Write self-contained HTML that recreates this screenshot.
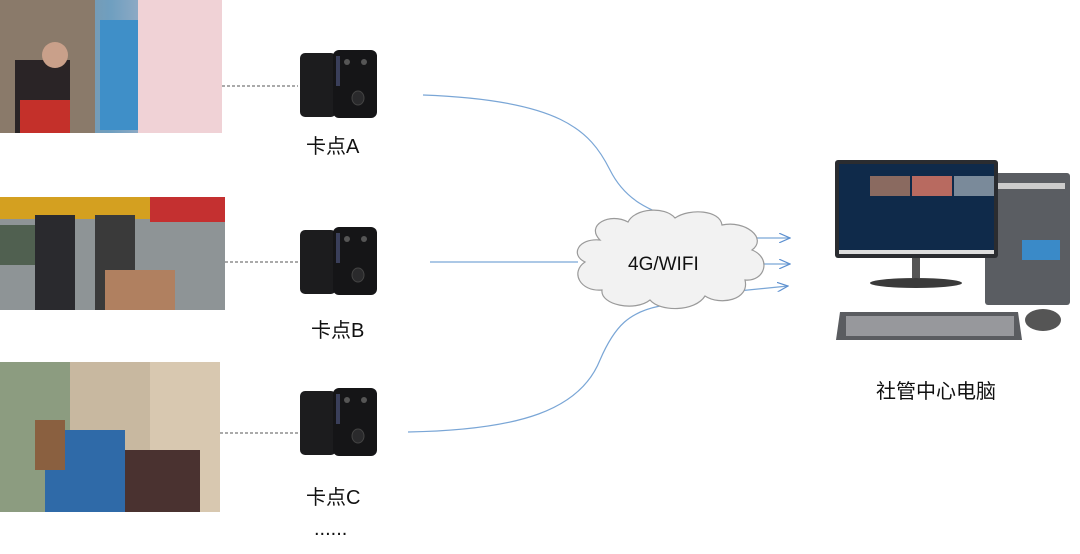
<!DOCTYPE html>
<html><head><meta charset="utf-8"><style>
html,body{margin:0;padding:0;background:#fff;}
svg{display:block;font-family:"Liberation Sans","Noto Sans CJK SC",sans-serif;}
</style></head><body>
<svg width="1080" height="554" viewBox="0 0 1080 554" xmlns="http://www.w3.org/2000/svg">
<defs>
<linearGradient id="sky1" x1="0" y1="0" x2="1" y2="0"><stop offset="0" stop-color="#9a8a80"/><stop offset="0.5" stop-color="#6f9fc0"/><stop offset="1" stop-color="#e8c8d0"/></linearGradient>
<g id="cam">
<rect x="0" y="3" width="36" height="64" rx="5" fill="#1c1c1e"/>
<rect x="33" y="0" width="44" height="68" rx="6" fill="#151517"/>
<rect x="36" y="6" width="4" height="30" fill="#3a3f5a"/>
<circle cx="47" cy="12" r="3" fill="#555"/><circle cx="64" cy="12" r="3" fill="#555"/>
<ellipse cx="58" cy="48" rx="6" ry="7" fill="#2a2a2c" stroke="#444"/>
</g>
<marker id="ar" markerWidth="10" markerHeight="8" refX="9" refY="4" orient="auto"><path d="M0,0 L9,4 L0,8" fill="none" stroke="#5b8fd0" stroke-width="1"/></marker>
</defs>

<rect x="0" y="0" width="222" height="133" fill="url(#sky1)"/>
<rect x="0" y="0" width="95" height="133" fill="#8a7a6a"/>
<rect x="100" y="20" width="40" height="110" fill="#3f8fc8"/>
<rect x="138" y="0" width="84" height="133" fill="#f0d2d6"/>
<rect x="15" y="60" width="55" height="73" fill="#2a2426"/>
<rect x="20" y="100" width="50" height="33" fill="#c4302a"/>
<circle cx="55" cy="55" r="13" fill="#c9a08a"/>

<rect x="0" y="197" width="225" height="113" fill="#8e9496"/>
<rect x="0" y="197" width="225" height="22" fill="#d4a020"/>
<rect x="150" y="197" width="75" height="25" fill="#c43030"/>
<rect x="0" y="225" width="40" height="40" fill="#506050"/>
<rect x="35" y="215" width="40" height="95" fill="#2a2a2e"/>
<rect x="95" y="215" width="40" height="95" fill="#3a3a3a"/>
<rect x="105" y="270" width="70" height="40" fill="#b08060"/>

<rect x="0" y="362" width="220" height="150" fill="#c8b8a0"/>
<rect x="0" y="362" width="70" height="150" fill="#8c9c80"/>
<rect x="150" y="362" width="70" height="150" fill="#d8c8b0"/>
<rect x="45" y="430" width="80" height="82" fill="#2f6aa8"/>
<rect x="125" y="450" width="75" height="62" fill="#4a3230"/>
<rect x="35" y="420" width="30" height="50" fill="#8a6040"/>

<g stroke="#555" stroke-width="1" stroke-dasharray="3,2">
<line x1="222" y1="86" x2="298" y2="86"/>
<line x1="225" y1="262" x2="298" y2="262"/>
<line x1="220" y1="433" x2="298" y2="433"/>
</g>

<use href="#cam" x="300" y="50"/>
<use href="#cam" x="300" y="227"/>
<use href="#cam" x="300" y="388"/>

<g font-size="20" fill="#111">
<text x="306" y="153">卡点A</text>
<text x="311" y="337">卡点B</text>
<text x="306" y="504">卡点C</text>
<text x="314" y="535" font-size="20">......</text>
</g>

<g fill="none" stroke="#7aa6d6" stroke-width="1.2">
<path d="M423,95 C560,100 590,130 610,170 C625,200 650,212 682,220"/>
<line x1="430" y1="262" x2="578" y2="262"/>
<path d="M408,432 C520,430 580,410 600,360 C615,325 630,312 660,306"/>
<line x1="755" y1="238" x2="790" y2="238" marker-end="url(#ar)"/>
<line x1="762" y1="264" x2="790" y2="264" marker-end="url(#ar)"/>
<line x1="738" y1="291" x2="788" y2="286" marker-end="url(#ar)"/>
</g>

<path d="M600,240 C585,225 610,212 628,222 C635,208 665,206 675,218 C690,208 720,210 722,225 C745,220 768,238 752,250 C772,258 765,282 745,280 C750,300 720,306 705,296 C695,312 660,312 650,300 C635,312 600,305 602,290 C580,292 570,272 585,262 C570,255 578,238 600,240 Z" fill="#f2f2f2" stroke="#9a9a9a" stroke-width="1.2"/>
<text x="628" y="270" font-size="19" fill="#111">4G/WIFI</text>

<rect x="985" y="173" width="85" height="132" rx="3" fill="#5a5d62"/>
<rect x="990" y="183" width="75" height="6" fill="#ccc"/>
<rect x="1022" y="240" width="38" height="20" fill="#3a8ac8"/>
<rect x="835" y="160" width="163" height="98" rx="3" fill="#2a2c30"/>
<rect x="839" y="164" width="155" height="86" fill="#0f2a4a"/>
<rect x="870" y="176" width="40" height="20" fill="#8a6a60"/>
<rect x="912" y="176" width="40" height="20" fill="#b86a60"/>
<rect x="954" y="176" width="40" height="20" fill="#7a8a9a"/>
<rect x="839" y="250" width="155" height="4" fill="#ddd"/>
<rect x="912" y="258" width="8" height="20" fill="#555"/>
<ellipse cx="916" cy="283" rx="46" ry="5" fill="#3a3a3a"/>
<path d="M840,312 L1018,312 L1022,340 L836,340 Z" fill="#5a5c60"/>
<rect x="846" y="316" width="168" height="20" fill="#b0b2b6" opacity="0.7"/>
<ellipse cx="1043" cy="320" rx="18" ry="11" fill="#555"/>
<text x="876" y="398" font-size="20" fill="#111">社管中心电脑</text>
</svg>
</body></html>
